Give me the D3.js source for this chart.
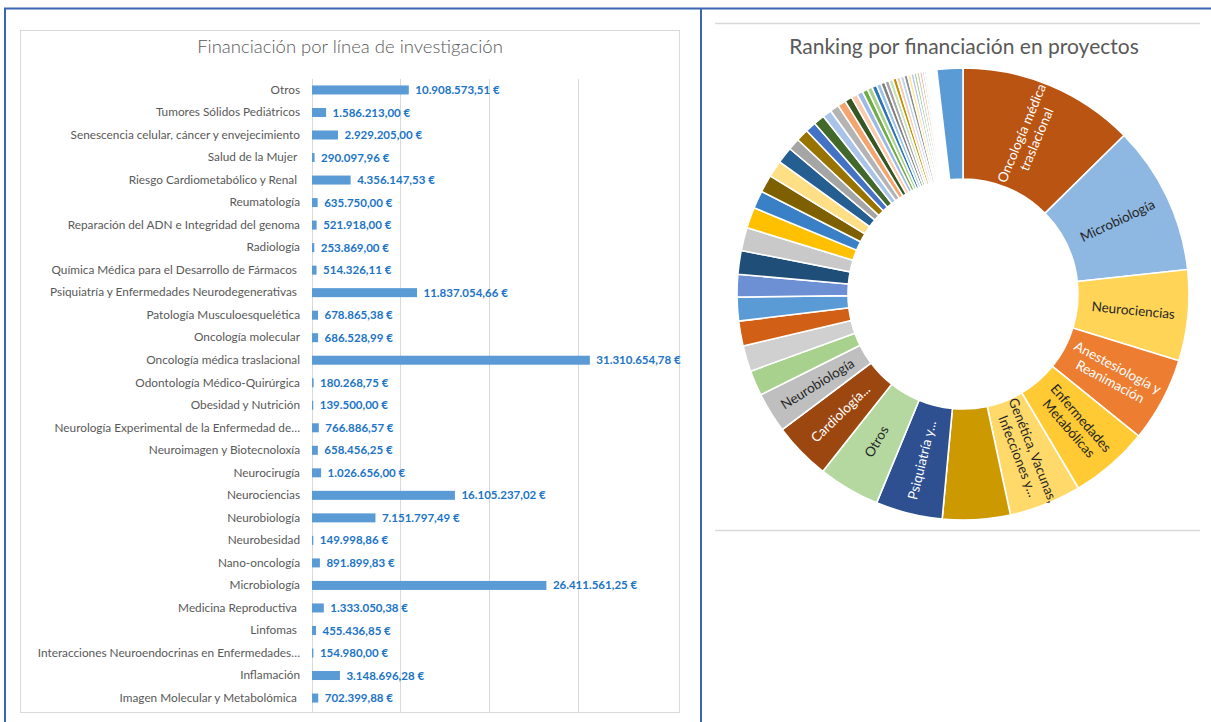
<!DOCTYPE html>
<meta charset="utf-8">
<title>Financiación por línea de investigación</title>
<style>
  body { margin: 0; background: #fff; }
  svg { display: block; font-family: Lato, "Open Sans", sans-serif; }
</style>
<body>
<script src="https://d3js.org/d3.v7.min.js"></script>
<script>

// --- bar chart data (top to bottom, as in the picture)
const barCategories = [
  "Otros",
  "Tumores Sólidos Pediátricos",
  "Senescencia celular, cáncer y envejecimiento",
  "Salud de la Mujer ",
  "Riesgo Cardiometabólico y Renal ",
  "Reumatología",
  "Reparación del ADN e Integridad del genoma",
  "Radiología",
  "Química Médica para el Desarrollo de Fármacos ",
  "Psiquiatría y Enfermedades Neurodegenerativas ",
  "Patología Musculoesquelética",
  "Oncología molecular",
  "Oncología médica traslacional",
  "Odontología Médico-Quirúrgica",
  "Obesidad y Nutrición",
  "Neurología Experimental de la Enfermedad de…",
  "Neuroimagen y Biotecnoloxía",
  "Neurocirugía",
  "Neurociencias",
  "Neurobiología",
  "Neurobesidad",
  "Nano-oncología",
  "Microbiología",
  "Medicina Reproductiva ",
  "Linfomas ",
  "Interacciones Neuroendocrinas en Enfermedades…",
  "Inflamación",
  "Imagen Molecular y Metabolómica "
];
const barValues = [
  10908573.51, 1586213.00, 2929205.00, 290097.96, 4356147.53, 635750.00,
  521918.00, 253869.00, 514326.11, 11837054.66, 678865.38, 686528.99,
  31310654.78, 180268.75, 139500.00, 766886.57, 658456.25, 1026656.00,
  16105237.02, 7151797.49, 149998.86, 891899.83, 26411561.25, 1333050.38,
  455436.85, 154980.00, 3148696.28, 702399.88
];
const gridTicks = [0, 10e6, 20e6, 30e6];

// --- donut data (millions of euros, in drawing order, clockwise from 12 o'clock)
const donutLabels = [
  ["Oncología médica", "traslacional"],
  ["Microbiología"],
  ["Neurociencias"],
  ["Anestesiología y", "Reanimación"],
  ["Enfermedades", "Metabólicas"],
  ["Genética, Vacunas,", "Infecciones y..."],
  null,
  ["Psiquiatría y..."],
  ["Otros"],
  ["Cardiología..."],
  ["Neurobiología"]
];
const donutLabelDark = [false, true, true, false, true, true, true, false, true, false, true];
const donutValues = [
  31.31, 26.41, 16.11, 15.0, 14.0, 12.8, 12.0, 11.84, 10.91, 10.2, 7.15,
  4.5, 4.6, 4.4, 4.2, 4.0, 4.2, 4.1, 3.7, 3.15, 3.1, 2.95, 2.9,
  2.1, 2.2, 1.9, 1.95, 1.6, 1.6, 1.45, 1.3, 1.1, 1.05, 0.95,
  0.89, 0.85, 0.80, 0.77, 0.75, 0.70, 0.69, 0.68, 0.66, 0.64, 0.60, 0.55,
  0.52, 0.51, 0.46, 0.40, 0.35, 0.29, 0.25, 0.20, 0.18, 0.155, 0.15, 0.14,
  0.12, 0.10, 0.09, 0.08, 0.07,
  4.6
];
const donutColors = [
  "#BA5412", "#8EB7E1", "#FFD457", "#ED7D31", "#FFCA33", "#FFDA6A", "#CC9A00",
  "#2E5090", "#B5D8A0", "#9C470F", "#BFBFBF",
  "#A9D18E", "#D0D0D0", "#D16016", "#5B9BD5", "#6D8FD3", "#1F4E79", "#C9C9C9",
  "#FFC000", "#3A80C6", "#7F6000", "#FFDF85", "#255E91",
  "#A5A5A5", "#997300", "#4472C4", "#43682B", "#A9C4E8", "#B4B4B4", "#F4A46E",
  "#375623", "#F8CBAD", "#9DB9E5", "#70AD47",
  "#A9D18E", "#2E75B6", "#9DC3E6", "#7F7F7F", "#A5A5A5", "#C5E0B4", "#BF9000",
  "#F8CBAD", "#BDD7EE", "#8C8C8C", "#FFE699", "#B4C7E7", "#A9D18E", "#C9C9C9",
  "#F4B183", "#BDD7EE", "#DBDBDB", "#FBE5D6", "#DEEBF7", "#E2F0D9", "#EDEDED",
  "#FFF2CC", "#DAE3F3", "#F2F2F2", "#FBE5D6", "#DEEBF7", "#EDEDED", "#FFF2CC",
  "#F2F2F2",
  "#5B9BD5"
];

const W = 1211, H = 722;
const svg = d3.select("body").append("svg")
  .attr("width", W)
  .attr("height", H);

// panel borders
svg.append("path")
  .attr("d", `M5,${H} V8.5 H${W} M701,8.5 V${H}`)
  .attr("fill", "none")
  .attr("stroke", "#3A65B0")
  .attr("stroke-width", 2);

// ---------------- bar chart ----------------
svg.append("rect")
  .attr("x", 20.5).attr("y", 30.5)
  .attr("width", 659).attr("height", 682)
  .attr("fill", "none")
  .attr("stroke", "#D9D9D9");

svg.append("text")
  .attr("x", 350).attr("y", 53)
  .attr("text-anchor", "middle")
  .attr("fill", "#595959")
  .style("font-size", "18.5px")
  .style("font-weight", 300)
  .text("Financiación por línea de investigación");

const x = d3.scaleLinear().domain([0, 35e6]).range([311.5, 622.1]);
const y = d3.scaleBand().domain(barCategories).range([78.7, 709.3]).paddingInner(0.6).paddingOuter(0.3);

svg.append("g")
  .selectAll("line")
  .data(gridTicks)
  .join("line")
    .attr("x1", d => Math.round(x(d)) + 0.5)
    .attr("x2", d => Math.round(x(d)) + 0.5)
    .attr("y1", 79)
    .attr("y2", 713)
    .attr("stroke", "#D9D9D9");

const yAxis = svg.append("g")
  .attr("transform", "translate(300,0)")
  .call(d3.axisLeft(y).tickSize(0).tickPadding(0));
yAxis.select(".domain").remove();
yAxis.selectAll("text")
  .attr("fill", "#595959")
  .style("white-space", "pre")
  .style("font-family", "Lato, 'Open Sans', sans-serif")
  .style("font-size", "11.8px");

svg.append("g")
  .selectAll("rect")
  .data(barValues)
  .join("rect")
    .attr("x", x(0) + 0.5)
    .attr("y", (d, i) => y(barCategories[i]))
    .attr("width", d => x(d) - x(0))
    .attr("height", y.bandwidth())
    .attr("fill", "#5B9BD5");

const es = d3.formatLocale({ decimal: ",", thousands: ".", grouping: [3], currency: ["", " €"] });
const fmt = es.format("$,.2f");

svg.append("g")
  .selectAll("text")
  .data(barValues)
  .join("text")
    .attr("x", d => x(d) + 7)
    .attr("y", (d, i) => y(barCategories[i]) + y.bandwidth() / 2)
    .attr("dy", "0.35em")
    .attr("fill", "#1B74C5")
    .style("font-size", "11.5px")
    .style("font-weight", 700)
    .text(d => fmt(d));

// ---------------- donut ----------------
svg.append("path")
  .attr("d", "M715,23.5 H1200 M715,530.5 H1200")
  .attr("stroke", "#D9D9D9")
  .attr("stroke-width", 1.5);

svg.append("text")
  .attr("x", 964).attr("y", 54)
  .attr("text-anchor", "middle")
  .attr("fill", "#595959")
  .style("font-size", "21px")
  .text("Ranking por financiación en proyectos");

const cx = 963, cy = 294, rIn = 115, rOut = 226;
const pie = d3.pie().sort(null).value(d => d);
const arcs = pie(donutValues);
const arc = d3.arc().innerRadius(rIn).outerRadius(rOut);
const labelArc = d3.arc().innerRadius(171).outerRadius(171);

const donut = svg.append("g").attr("transform", `translate(${cx},${cy})`);
donut.selectAll("path")
  .data(arcs)
  .join("path")
    .attr("d", arc)
    .attr("fill", (d, i) => donutColors[i])
    .attr("stroke", "#fff")
    .attr("stroke-width", 1.6);

const lab = donut.selectAll("g.lab")
  .data(arcs.slice(0, donutLabels.length).filter((d, i) => donutLabels[i]))
  .join("g")
    .attr("class", "lab")
    .attr("transform", d => {
      const [lx, ly] = labelArc.centroid(d);
      let rot = (d.startAngle + d.endAngle) / 2 * 180 / Math.PI - 90;
      if (rot > 90) rot -= 180;
      return `translate(${lx},${ly}) rotate(${rot})`;
    });

lab.each(function(d) {
  const lines = donutLabels[d.index];
  const t = d3.select(this).append("text")
    .attr("text-anchor", "middle")
    .attr("fill", donutLabelDark[d.index] ? "#262626" : "#fff")
    .style("font-size", "13.5px");
  lines.forEach((s, k) => {
    t.append("tspan")
      .attr("x", 0)
      .attr("y", (k - (lines.length - 1) / 2) * 16)
      .attr("dy", "0.35em")
      .text(s);
  });
});

</script>
</body>
